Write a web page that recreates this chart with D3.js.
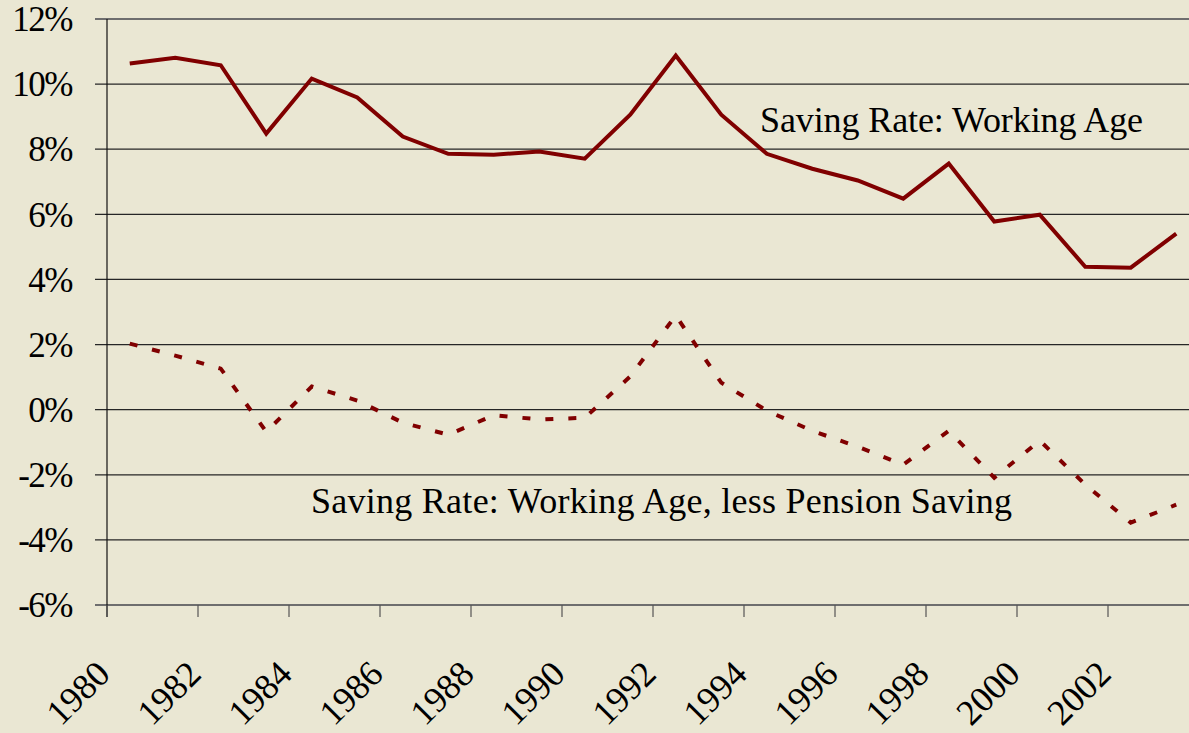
<!DOCTYPE html>
<html>
<head>
<meta charset="utf-8">
<script src="https://cdn.jsdelivr.net/npm/d3@7"></script>
<style>
  html, body { margin: 0; padding: 0; background: #eae7d3; }
  svg { display: block; font-family: "Liberation Serif", "Times New Roman", serif; }
</style>
</head>
<body>
<div id="chart"></div>
<script>
    // data (percent)
    var years = d3.range(1980, 2004);
    var workingAge = [10.63, 10.81, 10.58, 8.48, 10.17, 9.59, 8.39, 7.86, 7.83, 7.93, 7.71, 9.06,
                      10.88, 9.06, 7.86, 7.40, 7.04, 6.48, 7.56, 5.78, 5.99, 4.39, 4.36, 5.41];
    var lessPension = [2.03, 1.66, 1.26, -0.68, 0.71, 0.28, -0.40, -0.77, -0.17, -0.30, -0.25, 1.02,
                       2.89, 0.83, -0.03, -0.65, -1.14, -1.69, -0.65, -2.09, -0.95, -2.30, -3.47, -2.92];
    var yTicks = [-6, -4, -2, 0, 2, 4, 6, 8, 10, 12];
    var xTickYears = d3.range(1980, 2004, 2);
    var label1 = "Saving Rate: Working Age";
    var label2 = "Saving Rate: Working Age, less Pension Saving";

    var width = 1189, height = 733;
    var svg = d3.select("#chart").append("svg")
        .attr("width", width)
        .attr("height", height);

    svg.append("rect").attr("width", width).attr("height", height).attr("fill", "#eae7d3");

    // plot area runs off the right edge, like the original
    var plotLeft = 107, plotTop = 19, plotBottom = 605;
    var x = d3.scaleBand().domain(years).range([plotLeft, plotLeft + 24 * 45.5]).padding(0);
    var y = d3.scaleLinear().domain([-6, 12]).range([plotBottom, plotTop]);
    var cx = function(yr) { return x(yr) + x.bandwidth() / 2; };

    // gridlines + y ticks
    var grid = svg.append("g").attr("class", "grid");
    grid.selectAll("line")
      .data(yTicks)
      .enter().append("line")
        .attr("x1", 95)
        .attr("x2", width)
        .attr("y1", function(d) { return y(d); })
        .attr("y2", function(d) { return y(d); })
        .attr("stroke", function(d) { return (d == 12 || d == -6) ? "#6e6e6e" : "#262626"; })
        .attr("stroke-width", function(d) { return (d == 12 || d == -6) ? 2 : 1.2; });

    // y labels
    svg.append("g").selectAll("text")
      .data(yTicks)
      .enter().append("text")
        .attr("x", 72)
        .attr("y", function(d) { return y(d); })
        .attr("dy", "0.35em")
        .attr("text-anchor", "end")
        .attr("font-size", 35)
        .attr("letter-spacing", -1.5)
        .attr("fill", "#000")
        .text(function(d) { return d + "%"; });

    // y axis line
    svg.append("line")
        .attr("x1", plotLeft).attr("x2", plotLeft)
        .attr("y1", plotTop).attr("y2", plotBottom + 12)
        .attr("stroke", "#111").attr("stroke-width", 1.2);

    // x ticks
    svg.append("g").selectAll("line")
      .data(xTickYears)
      .enter().append("line")
        .attr("x1", function(d) { return x(d); })
        .attr("x2", function(d) { return x(d); })
        .attr("y1", plotBottom)
        .attr("y2", plotBottom + 12)
        .attr("stroke", "#555")
        .attr("stroke-width", 1.2);

    // x labels (rotated)
    svg.append("g").selectAll("text")
      .data(xTickYears)
      .enter().append("text")
        .attr("transform", function(d) { return "translate(" + (x(d) + 5) + ",676) rotate(-45)"; })
        .attr("text-anchor", "end")
        .attr("font-size", 36)
        .attr("fill", "#000")
        .text(function(d) { return d; });

    // lines
    var line = d3.line()
        .x(function(d) { return cx(d[0]); })
        .y(function(d) { return y(d[1]); });

    svg.append("path")
        .datum(d3.zip(years, workingAge))
        .attr("d", line)
        .attr("fill", "none")
        .attr("stroke", "#800000")
        .attr("stroke-width", 4)
        .attr("stroke-linejoin", "miter");

    svg.append("path")
        .datum(d3.zip(years, lessPension))
        .attr("d", line)
        .attr("fill", "none")
        .attr("stroke", "#800000")
        .attr("stroke-width", 4)
        .attr("stroke-dasharray", "8,15");

    // annotations
    svg.append("text")
        .attr("x", 760).attr("y", 132)
        .attr("font-size", 36)
        .attr("textLength", 383)
        .attr("lengthAdjust", "spacing")
        .attr("fill", "#000")
        .text(label1);

    svg.append("text")
        .attr("x", 311).attr("y", 513)
        .attr("font-size", 36)
        .attr("textLength", 701)
        .attr("lengthAdjust", "spacing")
        .attr("fill", "#000")
        .text(label2);
</script>
</body>
</html>
